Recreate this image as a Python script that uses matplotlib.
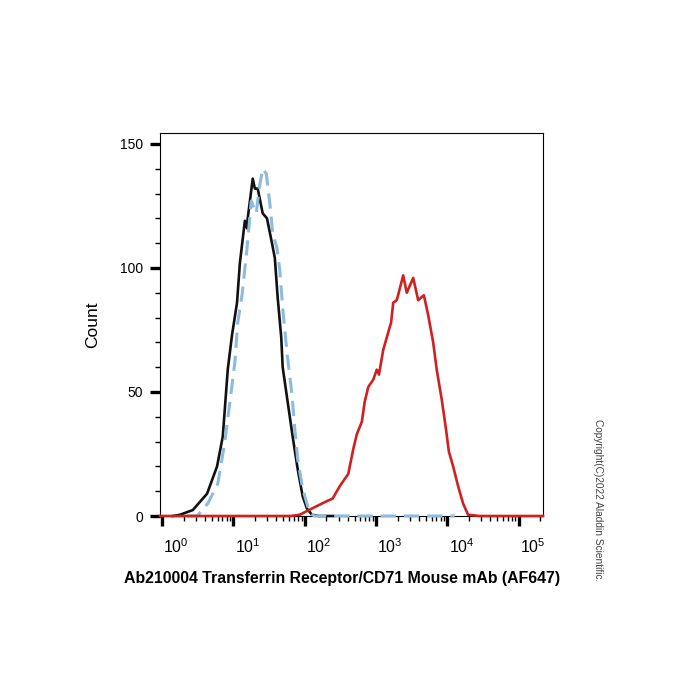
import matplotlib
matplotlib.use("Agg")
import matplotlib.pyplot as plt
import matplotlib.transforms as mtransforms
import numpy as np

plt.rcParams['font.family'] = ['Liberation Sans', 'DejaVu Sans']
plt.rcParams['mathtext.fontset'] = 'custom'
plt.rcParams['mathtext.rm'] = 'Liberation Sans'
plt.rcParams['mathtext.it'] = 'Liberation Sans'

# histogram traces (x as log10 of intensity)
black_log = [0.15, 0.25, 0.43, 0.63, 0.77, 0.85, 0.92, 0.98, 1.05, 1.09, 1.16, 1.19,
             1.20, 1.27, 1.30, 1.34, 1.41, 1.47, 1.54, 1.58, 1.62, 1.67, 1.69, 1.76,
             1.83, 1.90, 1.97, 2.03, 2.10, 2.20, 2.40]
black_count = [0, 0.5, 2.4, 9, 20, 32, 59, 73, 86, 102, 119, 116,
               120, 136, 132, 132, 122, 120, 110, 104, 88, 72, 60, 46,
               32, 19, 8, 3, 0.5, 0, 0]

blue_log = [0.35, 0.49, 0.64, 0.78, 0.88, 0.95, 1.02, 1.06, 1.12, 1.19, 1.25, 1.32,
            1.36, 1.41, 1.46, 1.51, 1.55, 1.61, 1.65, 1.69, 1.75, 1.82, 1.86, 1.90,
            1.97, 2.07, 2.14, 4.10]
blue_count = [0, 0, 5, 13, 30, 46, 62, 78, 89, 108, 127, 122,
              132, 140, 138, 126, 114, 108, 99, 84, 66, 49, 35, 23,
              11, 1, 0, 0]

red_log = [-0.03, 1.80, 1.93, 2.03, 2.17, 2.31, 2.39, 2.49, 2.61, 2.68, 2.73, 2.80,
           2.84, 2.89, 2.96, 3.01, 3.04, 3.10, 3.15, 3.21, 3.24, 3.29, 3.38, 3.43,
           3.52, 3.59, 3.67, 3.73, 3.80, 3.85, 3.92, 3.98, 4.02, 4.08, 4.15, 4.22,
           4.29, 4.45, 5.34]
red_count = [0, 0, 0.5, 2, 4, 6, 7, 12, 17, 27, 33, 38,
             46, 52, 55, 59, 57, 67, 72, 78, 86, 87, 97, 90,
             96, 87, 89, 81, 70, 59, 47, 35, 26, 20, 12, 5,
             0.5, 0, 0]

y_major = [0, 50, 100, 150]
x_decades = [0, 1, 2, 3, 4, 5]

fig = plt.figure(figsize=(7, 7), dpi=100)
ax = fig.add_axes([160 / 700, 1 - 516 / 700, 383 / 700, 383 / 700])

ax.plot(10 ** np.array(black_log), black_count, color='#111111', lw=1.9,
        clip_on=False, zorder=3)
ax.plot(10 ** np.array(blue_log), blue_count, color='#8dbbe0', lw=2.2,
        dashes=(5, 2.6), clip_on=False, zorder=4)
ax.plot(10 ** np.array(red_log), red_count, color='#d0201f', lw=1.9,
        clip_on=False, zorder=5)

ax.set_xscale('log')
ax.set_xlim(10 ** -0.03, 10 ** 5.34)
ax.set_ylim(0, 154.4)

ax.set_xticks([10.0 ** d for d in x_decades])
ax.set_xticklabels([r'$10^{%d}$' % d for d in x_decades])
ax.xaxis.set_minor_locator(matplotlib.ticker.LogLocator(base=10, subs=np.arange(2, 10)))
ax.xaxis.set_minor_formatter(matplotlib.ticker.NullFormatter())
ax.set_yticks(y_major)
ax.set_yticks(np.arange(0, 151, 10), minor=True)

ax.tick_params(which='major', direction='out', length=7, width=2.4, labelsize=10, pad=5)
ax.tick_params(which='minor', direction='out', length=3.5, width=1)
ax.tick_params(axis='x', which='major', labelsize=11.5, pad=8)

# x tick labels sit a little right of their ticks in the original
shift = mtransforms.ScaledTranslation(14 / 100, 0, fig.dpi_scale_trans)
for lab in ax.get_xticklabels():
    lab.set_transform(lab.get_transform() + shift)

for sp in ax.spines.values():
    sp.set_linewidth(0.8)

fig.text(93 / 700, 1 - 325 / 700, 'Count', rotation=90, ha='center', va='center', fontsize=12.5)
fig.text(342 / 700, 1 - 578 / 700, 'Ab210004 Transferrin Receptor/CD71 Mouse mAb (AF647)',
         ha='center', va='center', fontsize=11.4, fontweight='bold')
fig.text(598 / 700, 1 - 500 / 700, 'Copyright(C)2022 Aladdin Scientific.', rotation=-90,
         ha='center', va='center', fontsize=7.3, color='#444444')

fig.savefig('out.png', dpi=100)
